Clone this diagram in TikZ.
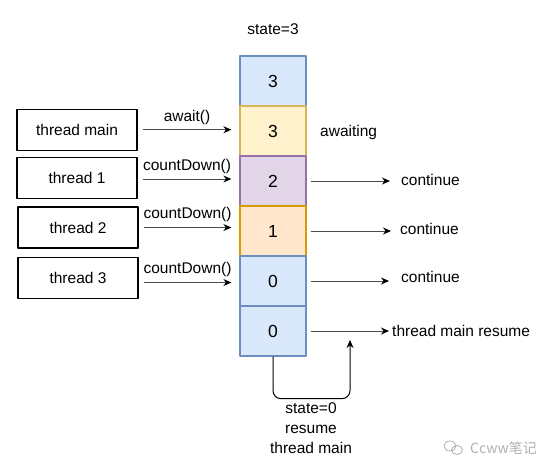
\documentclass[tikz,border=0pt]{standalone}
\usepackage{fontspec}
\setmainfont{Liberation Sans}
\newfontfamily\cjk{Noto Sans CJK SC}
\usetikzlibrary{arrows.meta}
\definecolor{bluefill}{HTML}{DAE8FC}\definecolor{blueline}{HTML}{6C8EBF}
\definecolor{yellowfill}{HTML}{FFF2CC}\definecolor{yellowline}{HTML}{D6B656}
\definecolor{purplefill}{HTML}{E1D5E7}\definecolor{purpleline}{HTML}{9673A6}
\definecolor{orangefill}{HTML}{FFE6CC}\definecolor{orangeline}{HTML}{D79B00}
\definecolor{markgray}{HTML}{B0B0B0}
\begin{document}
\begin{tikzpicture}[x=1pt,y=-1pt,>={Stealth[length=8pt,width=7pt,color=black]},line join=round,
	font=\fontsize{15.5}{20}\selectfont,
	cell/.style={draw=#1line,fill=#1fill,line width=1.3pt,minimum width=66pt,minimum height=50pt,
		font=\fontsize{17.5}{20}\selectfont},
	thread/.style={draw,line width=1.4pt,minimum width=120pt,minimum height=41pt},
	link/.style={->,draw=black!70,line width=1pt},
	lbl/.style={inner sep=0pt,anchor=west}]
	\useasboundingbox (0,0) rectangle (549,472);
	%cells of the counter
	\foreach \k/\v/\c in {1/3/blue,2/3/yellow,3/2/purple,4/1/orange,5/0/blue,6/0/blue}{
		\node[cell=\c] (c\k) at (273,31+50*\k) {\v};}
	\node (state) at (273,29) {state=3};
	\node[lbl] (wait) at (320,132) {awaiting};
	%threads
	\foreach \n/\t/\x/\y in {tm/thread main/77/129.7,t1/thread 1/77/178,t2/thread 2/78/227.5,t3/thread 3/78/278}{
		\node[thread] (\n) at (\x,\y) {\t};}
	\foreach \n/\k/\m/\dy in {tm/2/await()/0,t1/3/countDown()/1,t2/4/countDown()/0,t3/5/countDown()/4.5}{
		\draw[link] ([shift={(5,\dy)}]\n.east) -- ([shift={(-8,\dy)}]\n.east -| c\k.west)
			node[midway,above=1.5pt] {\m};}
	%results
	\node[lbl] (r3) at (401,180) {continue};
	\node[lbl] (r4) at (400,229) {continue};
	\node[lbl] (r5) at (401,277) {continue};
	\node[lbl] (r6) at (392,331) {thread main resume};
	\foreach \k/\g in {3/11,4/9,5/12,6/3}{
		\draw[link] ([xshift=4pt]c\k.east) -- ([xshift=-\g pt]c\k.east -| r\k.west);}
	%back to thread main
	\coordinate (back) at (350,340);
	\draw[->,line width=1pt,rounded corners=8pt] (c6.south) -- ++(0,42) -| (back);
	\node[align=center] (note) at (311,428) {state=0\\resume\\thread main};
	%watermark
	\node[text=markgray,font=\cjk\fontsize{14}{16}\selectfont,inner sep=0pt,anchor=west] (mark) at (470,448) {Ccww笔记};
	\draw[markgray,line width=0.8pt] (450,446) ellipse (6 and 5) (457,450) ellipse (5.5 and 4.5);
\end{tikzpicture}
\end{document}
